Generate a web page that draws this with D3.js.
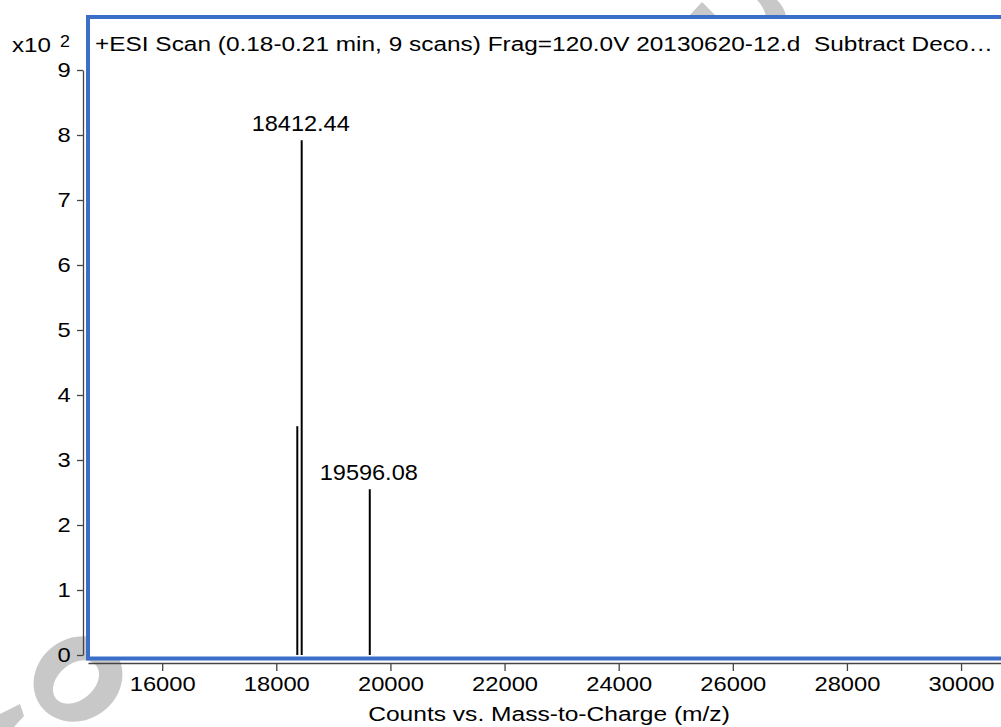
<!DOCTYPE html>
<html>
<head>
<meta charset="utf-8">
<script src="https://cdn.jsdelivr.net/npm/d3@7"></script>
<style>
  body { margin: 0; background: #fff; }
  text { font-family: "Liberation Sans", Arial, sans-serif; fill: #000; }
</style>
</head>
<body>
<div id="chart"></div>
<script>
// peaks (m/z position, counts x10^2)
var peakMz = [18368, 18445, 19638]
var peakCounts = [3.52, 7.92, 2.55]
var peakLabels = ["", "18412.44", "19596.08"]

var xTicks = [16000, 18000, 20000, 22000, 24000, 26000, 28000, 30000]
var yTicks = [0, 1, 2, 3, 4, 5, 6, 7, 8, 9]

var title = "+ESI Scan (0.18-0.21 min, 9 scans) Frag=120.0V 20130620-12.d  Subtract Deco\u2026"
var xTitle = "Counts vs. Mass-to-Charge (m/z)"

drawSpectrum()

function drawSpectrum() {
	const W = 1001, H = 727
	const sx = 1.13 // the original glyphs are a bit wider than Liberation Sans

	var svg = d3.select("#chart")
		.append("svg")
		.attr("width", W)
		.attr("height", H)

	// faint watermark behind everything (the plot area covers part of it)
	var wm = svg.append("g").attr("class", "watermark").style("fill", "#c8c8c8")
	wm.append("path")
		.attr("fill-rule", "evenodd")
		.attr("d", ellipse(78, 679, 46, 41, -35) + ellipse(76, 682, 26, 18, -40))
	wm.append("path").attr("d", "M0,714 L20,704 L24,716 L14,727 L0,727 Z")
	wm.append("path").attr("d", "M689,16 L702,2 L716,16 Z")
	wm.append("path").attr("d", "M757,0 L777,0 C782,5 785,10 786,16 L766,16 C764,9 761,4 757,0 Z")

	const xScale = d3.scaleLinear()
		.domain([14700, 30700])
		.range([88, 1001])

	const yScale = d3.scaleLinear()
		.domain([0, 9])
		.range([655, 70])

	// plot area background
	svg.append("rect")
		.attr("x", 88)
		.attr("y", 17)
		.attr("width", 930)
		.attr("height", 641.5)
		.attr("fill", "#fff")

	// y axis
	var gY = svg.append("g")
		.attr("class", "VerticalAxis")
		.attr("transform", "translate(83,0)")
		.call(d3.axisLeft(yScale).tickValues(yTicks).tickSize(6).tickSizeOuter(0).tickFormat(d3.format("d")))
	gY.select(".domain").attr("stroke", "#444").attr("stroke-width", 1.3)
	gY.selectAll(".tick line").attr("stroke", "#444").attr("stroke-width", 1.3)
	gY.selectAll(".tick text")
		.attr("x", -11)
		.attr("transform", `scale(${sx},1)`)
		.style("font-size", "21px")
		.style("font-family", "Liberation Sans, Arial, sans-serif")
		.attr("fill", "#000")

	// x axis
	var gX = svg.append("g")
		.attr("class", "HorizontalAxis")
		.attr("transform", "translate(0,663)")
		.call(d3.axisBottom(xScale).tickValues(xTicks).tickSize(8).tickSizeOuter(0).tickFormat(d3.format("d")))
	gX.select(".domain").attr("stroke", "#444").attr("stroke-width", 1.3)
	gX.selectAll(".tick line").attr("stroke", "#444").attr("stroke-width", 1.3)
	gX.selectAll(".tick text")
		.attr("y", 13)
		.attr("transform", `scale(${sx},1)`)
		.style("font-size", "21px")
		.style("font-family", "Liberation Sans, Arial, sans-serif")
		.attr("fill", "#000")

	// x10^2 multiplier
	svg.append("text")
		.attr("transform", "translate(12,52) scale(1.15,1)")
		.style("font-size", "21px")
		.text("x10")
	svg.append("text")
		.attr("transform", "translate(60,47) scale(1.05,1)")
		.style("font-size", "17px")
		.text("2")

	// peaks
	var gPeaks = svg.append("g").attr("class", "peaks")
	gPeaks.selectAll("line")
		.data(peakMz)
		.enter()
		.append("line")
		.attr("x1", d => xScale(d))
		.attr("x2", d => xScale(d))
		.attr("y1", yScale(0))
		.attr("y2", (d, i) => yScale(peakCounts[i]))
		.attr("stroke", "#000")
		.attr("stroke-width", 2)

	gPeaks.selectAll("text")
		.data(peakMz)
		.enter()
		.append("text")
		.attr("transform", (d, i) => `translate(${xScale(d) - 1},${yScale(peakCounts[i]) - 9}) scale(1.07,1)`)
		.attr("text-anchor", "middle")
		.style("font-size", "22px")
		.text((d, i) => peakLabels[i])

	// plot frame
	svg.append("rect")
		.attr("x", 88)
		.attr("y", 17)
		.attr("width", 930)
		.attr("height", 641.5)
		.attr("fill", "none")
		.attr("stroke", "#3a6ec8")
		.attr("stroke-width", 4)

	svg.append("text")
		.attr("x", 95)
		.attr("y", 51)
		.attr("textLength", 898)
		.attr("lengthAdjust", "spacingAndGlyphs")
		.style("white-space", "pre")
		.style("font-size", "20px")
		.text(title)

	svg.append("text")
		.attr("transform", "translate(549,721) scale(1.17,1)")
		.attr("text-anchor", "middle")
		.style("font-size", "21px")
		.text(xTitle)
}

// closed path for a rotated ellipse
function ellipse(cx, cy, rx, ry, angle) {
	var p = d3.path()
	var pts = d3.range(0, 64).map(function(k) {
		var t = k / 64 * 2 * Math.PI, a = angle * Math.PI / 180
		var x = rx * Math.cos(t), y = ry * Math.sin(t)
		return [cx + x * Math.cos(a) - y * Math.sin(a), cy + x * Math.sin(a) + y * Math.cos(a)]
	})
	pts.forEach(function(q, k) { k ? p.lineTo(q[0], q[1]) : p.moveTo(q[0], q[1]) })
	p.closePath()
	return p.toString()
}
</script>
</body>
</html>
